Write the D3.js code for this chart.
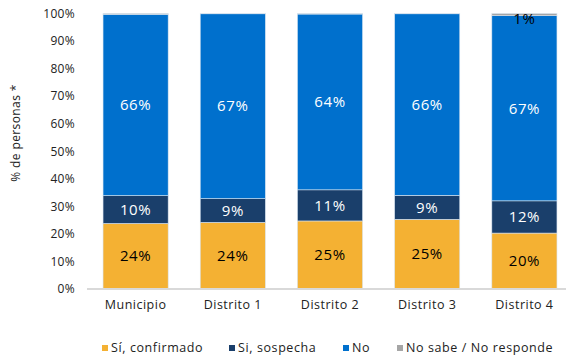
<!DOCTYPE html>
<html><head><meta charset="utf-8">
<script src="https://cdn.jsdelivr.net/npm/d3@7"></script>
<style>body{margin:0;background:#fff;} text{font-family:"Open Sans",sans-serif;}</style>
</head><body><svg id="c" width="566" height="356"></svg>
<script>
const categories = ["Municipio","Distrito 1","Distrito 2","Distrito 3","Distrito 4"];
const seriesNames = ["Sí, confirmado","Si, sospecha","No","No sabe / No responde"];
const confirmado = [23.8, 24.2, 24.7, 25.3, 20.3];
const sospecha   = [10.1, 8.6, 11.3, 8.7, 11.7];
const no         = [65.8, 67.1, 63.8, 65.9, 67.2];
const nsnr       = [0.3, 0.1, 0.2, 0.1, 0.8];
const yTicks = [0,10,20,30,40,50,60,70,80,90,100];
const colors = ["#F4B133","#1A3F6B","#0070CD","#A6A6A6"];
const labelColors = ["#000","#fff","#fff","#000"];

const svg = d3.select("#c");
const x = d3.scaleBand().domain(categories).range([87,573]).paddingInner(0.33).paddingOuter(0.165);
const y = d3.scaleLinear().domain([0,100]).range([289,13.5]);

const rows = categories.map((c,i)=>({cat:c, v:[confirmado[i],sospecha[i],no[i],nsnr[i]]}));
const stack = d3.stack().keys([0,1,2,3]).value((d,k)=>d.v[k]);
const layers = stack(rows);

// axis
const yAxis = d3.axisLeft(y).tickValues(yTicks).tickFormat(d=>d+"%").tickSize(0).tickPadding(0);
const ya = svg.append("g").attr("transform","translate(75,0)").call(yAxis);
ya.select(".domain").remove();
ya.selectAll("text").attr("font-size",12).attr("fill","#222").attr("letter-spacing","0.3px").attr("font-family","'Open Sans',sans-serif");

layers.forEach((L,k)=>{
  svg.append("g").selectAll("rect").data(L).join("rect")
    .attr("x",d=>x(d.data.cat)).attr("width",x.bandwidth())
    .attr("y",d=>y(d[1])).attr("height",d=>y(d[0])-y(d[1]))
    .attr("fill",colors[k]).attr("stroke","#d8e4f0").attr("stroke-width",0.6);
});

// baseline
svg.append("line").attr("x1",87).attr("x2",566).attr("y1",y(0)).attr("y2",y(0)).attr("stroke","#D9D9D9").attr("stroke-width",2);

// labels
layers.forEach((L,k)=>{
  svg.append("g").selectAll("text").data(L.filter(d=>k<3 || (d[1]-d[0])>=0.5)).join("text")
    .attr("x",d=>x(d.data.cat)+x.bandwidth()/2)
    .attr("y",d=> k===3 ? y(d[1])+5 : y((d[0]+d[1])/2))
    .attr("dy","0.35em").attr("text-anchor","middle").attr("font-size",15).attr("letter-spacing","0.6px")
    .attr("fill",labelColors[k])
    .text(d=>Math.round(d[1]-d[0])+"%");
});

// x labels
svg.append("g").selectAll("text").data(categories).join("text")
  .attr("x",d=>x(d)+x.bandwidth()/2).attr("y",305).attr("dy","0.35em")
  .attr("text-anchor","middle").attr("font-size",12.5).attr("letter-spacing","0.5px").attr("fill","#222").text(d=>d);

// y title
svg.append("text").attr("transform","translate(16,133) rotate(-90)").attr("text-anchor","middle").attr("dy","0.35em")
  .attr("font-size",12).attr("letter-spacing","0.4px").attr("fill","#222").text("% de personas *");

// legend
const legX = [102,229,343,397];
const lg = svg.append("g").selectAll("g").data(seriesNames).join("g")
  .attr("transform",(d,i)=>`translate(${legX[i]},348)`);
lg.append("rect").attr("x",0).attr("y",-3).attr("width",6).attr("height",6).attr("fill",(d,i)=>colors[i]);
lg.append("text").attr("x",9).attr("dy","0.35em").attr("font-size",12.5).attr("letter-spacing","0.6px").attr("fill","#222").text(d=>d);
</script></body></html>
